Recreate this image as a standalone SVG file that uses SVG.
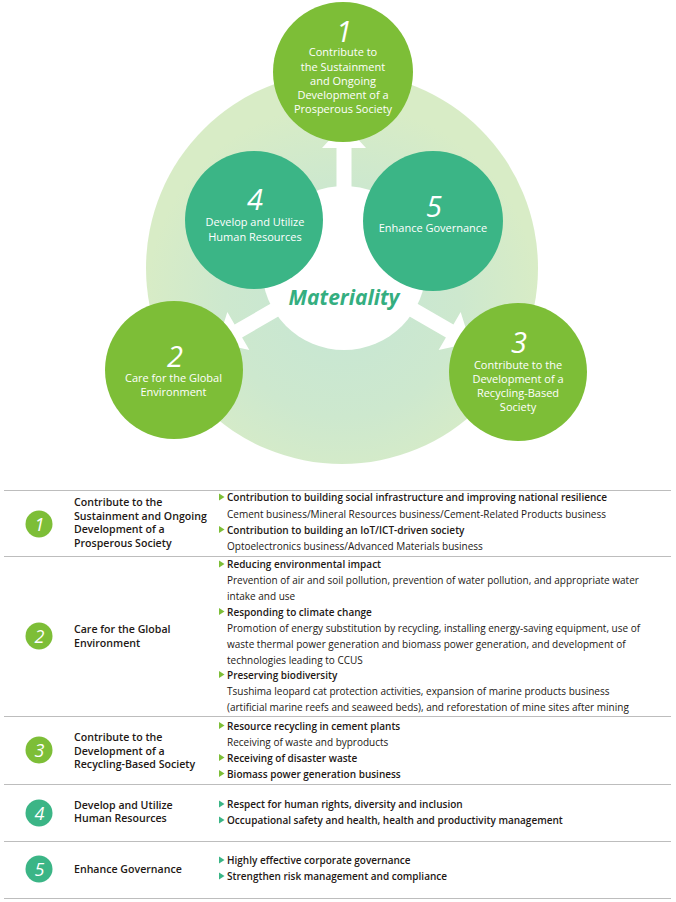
<svg xmlns="http://www.w3.org/2000/svg" width="676" height="902" viewBox="0 0 676 902">
<defs>
<radialGradient id="pale" cx="342" cy="300" r="196" gradientUnits="userSpaceOnUse">
<stop offset="0" stop-color="#C6E6D4"/>
<stop offset="0.6" stop-color="#CDE8CE"/>
<stop offset="1" stop-color="#D8ECC6"/>
</radialGradient>
<path id="arrowUp" d="M344,124 L366,148 L351.5,148 L351.5,210 L336.5,210 L336.5,148 L322,148 Z"/>
<path id="bul" d="M0,-7.5 L5.5,-4 L0,-0.5 Z"/>
</defs>
<style>
.g{fill:#7DBE37}
.t{fill:#3BB586}
.num{font-family:"Open Sans","Noto Sans",sans-serif;font-weight:400;font-style:italic;font-size:29px;fill:#fff;text-anchor:middle}
.ct{font-family:"Open Sans","Noto Sans",sans-serif;font-size:11px;fill:#fff;text-anchor:middle}
.mat{font-family:"Open Sans","Noto Sans",sans-serif;font-weight:700;font-style:italic;font-size:21px;fill:#34AE80;text-anchor:middle}
.sep{stroke:#BDBDBD;stroke-width:1}
.tn{font-family:"Open Sans","Noto Sans",sans-serif;font-style:italic;font-size:18px;fill:#fff;text-anchor:middle}
.lc{font-family:"Open Sans","Noto Sans",sans-serif;font-weight:600;font-size:10.6px;fill:#231815}
.hd{font-family:"Open Sans","Noto Sans",sans-serif;font-weight:600;font-size:10px;fill:#231815}
.sb{font-family:"Open Sans","Noto Sans",sans-serif;font-size:10px;fill:#231815}
</style>

<g id="background">
<circle cx="342" cy="268" r="196" fill="url(#pale)"/>
<circle cx="344" cy="268" r="82" fill="#fff"/>
</g>

<g id="connectors" fill="#fff">
<use href="#arrowUp"/>
<use href="#arrowUp" transform="rotate(-120 344 270)"/>
<use href="#arrowUp" transform="rotate(120 344 270)"/>
</g>

<g id="node-1">
<circle class="g" cx="343" cy="72" r="70"/>
<text class="num" x="344" y="42">1</text>
<text class="ct" x="343" y="56.3">Contribute to</text>
<text class="ct" x="343" y="70.5">the Sustainment</text>
<text class="ct" x="343" y="84.7">and Ongoing</text>
<text class="ct" x="343" y="98.9">Development of a</text>
<text class="ct" x="343" y="113">Prosperous Society</text>
</g>

<g id="node-4">
<circle class="t" cx="254" cy="220" r="69"/>
<text class="num" x="255" y="210">4</text>
<text class="ct" x="255" y="226">Develop and Utilize</text>
<text class="ct" x="255" y="240.5">Human Resources</text>
</g>

<g id="node-5">
<circle class="t" cx="433" cy="221" r="70"/>
<text class="num" x="434" y="216.5">5</text>
<text class="ct" x="433" y="232">Enhance Governance</text>
</g>

<g id="node-2">
<circle class="g" cx="174" cy="370" r="69"/>
<text class="num" x="175" y="366.5">2</text>
<text class="ct" x="173.5" y="382">Care for the Global</text>
<text class="ct" x="173.5" y="396">Environment</text>
</g>

<g id="node-3">
<circle class="g" cx="518" cy="372" r="69"/>
<text class="num" x="519" y="352.5">3</text>
<text class="ct" x="518" y="368.5">Contribute to the</text>
<text class="ct" x="518" y="382.7">Development of a</text>
<text class="ct" x="518" y="397">Recycling-Based</text>
<text class="ct" x="518" y="411">Society</text>
</g>

<g id="center-label">
<text class="mat" x="344" y="305">Materiality</text>
</g>

<g id="table-lines">
<line class="sep" x1="4" y1="490.5" x2="671" y2="490.5"/>
<line class="sep" x1="4" y1="556.5" x2="671" y2="556.5"/>
<line class="sep" x1="4" y1="716.5" x2="671" y2="716.5"/>
<line class="sep" x1="4" y1="784.5" x2="671" y2="784.5"/>
<line class="sep" x1="4" y1="841.5" x2="671" y2="841.5"/>
<line class="sep" x1="4" y1="898.5" x2="671" y2="898.5"/>
</g>

<g id="row-1">
<circle class="g" cx="39" cy="524" r="13.5"/>
<text class="tn" x="39.5" y="530.5">1</text>
<text class="lc" x="74" y="506">Contribute to the</text>
<text class="lc" x="74" y="519.5">Sustainment and Ongoing</text>
<text class="lc" x="74" y="533">Development of a</text>
<text class="lc" x="74" y="546.5">Prosperous Society</text>
<use href="#bul" class="g" x="219" y="501"/>
<text class="hd" x="227" y="501">Contribution to building social infrastructure and improving national resilience</text>
<text class="sb" x="227" y="517.5">Cement business/Mineral Resources business/Cement-Related Products business</text>
<use href="#bul" class="g" x="219" y="533.5"/>
<text class="hd" x="227" y="533.5">Contribution to building an IoT/ICT-driven society</text>
<text class="sb" x="227" y="549.5">Optoelectronics business/Advanced Materials business</text>
</g>

<g id="row-2">
<circle class="g" cx="39" cy="636" r="13.5"/>
<text class="tn" x="39.5" y="642.5">2</text>
<text class="lc" x="74" y="633">Care for the Global</text>
<text class="lc" x="74" y="646.5">Environment</text>
<use href="#bul" class="g" x="219" y="568"/>
<text class="hd" x="227" y="568">Reducing environmental impact</text>
<text class="sb" x="227" y="584">Prevention of air and soil pollution, prevention of water pollution, and appropriate water</text>
<text class="sb" x="227" y="600">intake and use</text>
<use href="#bul" class="g" x="219" y="615.5"/>
<text class="hd" x="227" y="615.5">Responding to climate change</text>
<text class="sb" x="227" y="631.5">Promotion of energy substitution by recycling, installing energy-saving equipment, use of</text>
<text class="sb" x="227" y="647.5">waste thermal power generation and biomass power generation, and development of</text>
<text class="sb" x="227" y="663.5">technologies leading to CCUS</text>
<use href="#bul" class="g" x="219" y="678.5"/>
<text class="hd" x="227" y="678.5">Preserving biodiversity</text>
<text class="sb" x="227" y="694.5">Tsushima leopard cat protection activities, expansion of marine products business</text>
<text class="sb" x="227" y="710.5">(artificial marine reefs and seaweed beds), and reforestation of mine sites after mining</text>
</g>

<g id="row-3">
<circle class="g" cx="39" cy="750" r="13.5"/>
<text class="tn" x="39.5" y="756.5">3</text>
<text class="lc" x="74" y="741">Contribute to the</text>
<text class="lc" x="74" y="754.5">Development of a</text>
<text class="lc" x="74" y="768">Recycling-Based Society</text>
<use href="#bul" class="g" x="219" y="729.5"/>
<text class="hd" x="227" y="729.5">Resource recycling in cement plants</text>
<text class="sb" x="227" y="745.5">Receiving of waste and byproducts</text>
<use href="#bul" class="g" x="219" y="761.5"/>
<text class="hd" x="227" y="761.5">Receiving of disaster waste</text>
<use href="#bul" class="g" x="219" y="777.5"/>
<text class="hd" x="227" y="777.5">Biomass power generation business</text>
</g>

<g id="row-4">
<circle class="t" cx="39" cy="813" r="13.5"/>
<text class="tn" x="39.5" y="819.5">4</text>
<text class="lc" x="74" y="808.5">Develop and Utilize</text>
<text class="lc" x="74" y="822">Human Resources</text>
<use href="#bul" class="t" x="219" y="808"/>
<text class="hd" x="227" y="808">Respect for human rights, diversity and inclusion</text>
<use href="#bul" class="t" x="219" y="824"/>
<text class="hd" x="227" y="824">Occupational safety and health, health and productivity management</text>
</g>

<g id="row-5">
<circle class="t" cx="39" cy="869" r="13.5"/>
<text class="tn" x="39.5" y="875.5">5</text>
<text class="lc" x="74" y="872.5">Enhance Governance</text>
<use href="#bul" class="t" x="219" y="864"/>
<text class="hd" x="227" y="864">Highly effective corporate governance</text>
<use href="#bul" class="t" x="219" y="880"/>
<text class="hd" x="227" y="880">Strengthen risk management and compliance</text>
</g>
</svg>
